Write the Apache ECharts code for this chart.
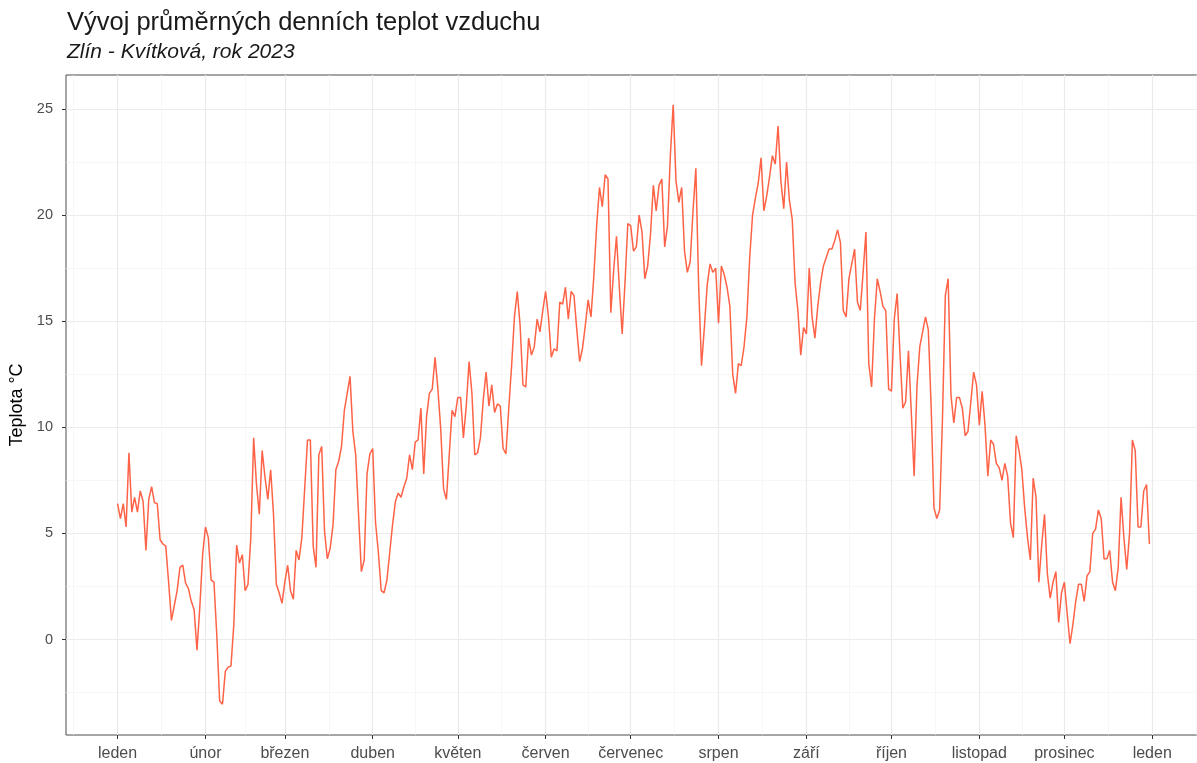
<!DOCTYPE html>
<html>
<head>
<meta charset="utf-8">
<script src="https://cdn.jsdelivr.net/npm/echarts@6/dist/echarts.min.js"></script>
<style>
  html, body { margin: 0; padding: 0; background: #fff; }
  #chart { width: 1197px; height: 763px; }
</style>
</head>
<body>
<div id="chart"></div>
<script>
// denni prumerne teploty 2023 (°C), jedno pole na mesic
var jan = [6.4, 5.7, 6.4, 5.3, 8.8, 6.0, 6.7, 6.0, 7.0, 6.5, 4.2, 6.6, 7.2, 6.45, 6.4, 4.7, 4.5, 4.4, 2.7, 0.9, 1.6, 2.3, 3.4, 3.5, 2.65, 2.4, 1.8, 1.4, -0.5, 1.5, 4.0];
var feb = [5.3, 4.8, 2.8, 2.7, 0.2, -2.9, -3.05, -1.5, -1.3, -1.25, 0.7, 4.45, 3.6, 4.0, 2.3, 2.6, 4.8, 9.5, 7.3, 5.9, 8.9, 7.65, 6.6, 8.0, 5.9, 2.6, 2.2, 1.7];
var mar = [2.7, 3.5, 2.3, 1.9, 4.2, 3.75, 4.8, 7.1, 9.4, 9.4, 4.4, 3.4, 8.7, 9.1, 5.1, 3.8, 4.3, 5.4, 8.0, 8.4, 9.1, 10.8, 11.6, 12.4, 9.8, 8.7, 5.9, 3.2, 3.75, 7.8, 8.75];
var apr = [9.0, 5.5, 4.1, 2.3, 2.2, 2.8, 4.1, 5.4, 6.5, 6.9, 6.7, 7.2, 7.6, 8.7, 8.0, 9.3, 9.4, 10.9, 7.8, 10.5, 11.6, 11.8, 13.3, 11.8, 9.9, 7.1, 6.6, 8.7, 10.8, 10.5];
var may = [11.4, 11.4, 9.5, 11.0, 13.1, 11.6, 8.7, 8.8, 9.5, 11.3, 12.6, 11.0, 12.0, 10.7, 11.1, 11.0, 9.0, 8.75, 10.9, 12.9, 15.2, 16.4, 14.8, 12.0, 11.9, 14.2, 13.4, 13.8, 15.1, 14.5, 15.5];
var jun = [16.4, 15.2, 13.3, 13.7, 13.6, 15.9, 15.8, 16.6, 15.1, 16.4, 16.2, 14.6, 13.1, 13.7, 14.8, 16.0, 15.2, 17.1, 19.5, 21.3, 20.4, 21.9, 21.7, 15.4, 17.4, 19.0, 16.6, 14.4, 16.8, 19.6];
var jul = [19.5, 18.3, 18.5, 20.0, 19.2, 17.0, 17.6, 19.1, 21.4, 20.2, 21.4, 21.7, 18.5, 19.5, 22.8, 25.2, 21.6, 20.6, 21.3, 18.3, 17.3, 17.8, 20.2, 22.2, 16.6, 12.9, 14.7, 16.7, 17.7, 17.3, 17.5];
var aug = [14.9, 17.6, 17.2, 16.6, 15.7, 12.5, 11.6, 13.0, 12.9, 13.8, 15.2, 18.0, 20.0, 20.8, 21.5, 22.7, 20.2, 20.9, 21.8, 22.8, 22.4, 24.2, 21.6, 20.3, 22.5, 20.7, 19.8, 16.8, 15.5, 13.4, 14.7];
var sep = [14.4, 17.5, 15.2, 14.2, 15.7, 16.8, 17.6, 18.0, 18.4, 18.4, 18.8, 19.3, 18.7, 15.5, 15.2, 17.0, 17.7, 18.4, 15.9, 15.5, 17.3, 19.2, 13.0, 11.9, 15.1, 17.0, 16.4, 15.7, 15.5, 11.8];
var oct = [11.7, 15.1, 16.3, 13.5, 10.9, 11.2, 13.6, 10.7, 7.7, 11.95, 13.8, 14.5, 15.2, 14.6, 11.0, 6.2, 5.7, 6.1, 10.4, 16.2, 17.0, 11.5, 10.2, 11.4, 11.4, 10.9, 9.6, 9.8, 11.2, 12.6, 12.0];
var nov = [10.1, 11.7, 10.1, 7.7, 9.4, 9.2, 8.3, 8.1, 7.5, 8.3, 7.7, 5.5, 4.8, 9.6, 8.9, 8.0, 6.2, 4.8, 3.75, 7.6, 6.7, 2.7, 4.45, 5.9, 3.1, 1.95, 2.7, 3.2, 0.8, 2.2];
var dec = [2.7, 1.2, -0.2, 0.7, 1.8, 2.6, 2.6, 1.8, 3.0, 3.2, 5.0, 5.2, 6.1, 5.7, 3.8, 3.8, 4.2, 2.7, 2.3, 3.4, 6.7, 4.8, 3.3, 5.0, 9.4, 8.9, 5.3, 5.3, 7.0, 7.3, 4.5];

// osa x: den v roce (0 = 1. ledna)
var monthNames = ['leden', 'únor', 'březen', 'duben', 'květen', 'červen', 'červenec', 'srpen', 'září', 'říjen', 'listopad', 'prosinec', 'leden'];
var monthStarts = [0, 31, 59, 90, 120, 151, 181, 212, 243, 273, 304, 334, 365];
var monthMids = [-15.5, 15.5, 45, 74.5, 105, 135.5, 166, 196.5, 227.5, 258, 288.5, 319, 349.5, 380.5];
var yMajor = [0, 5, 10, 15, 20, 25];
var yMinor = [-2.5, 2.5, 7.5, 12.5, 17.5, 22.5];

var temps = [].concat(jan, feb, mar, apr, may, jun, jul, aug, sep, oct, nov, dec);
var seriesData = temps.map(function (v, i) { return [i, v]; });

var font = 'Liberation Sans, Arial, sans-serif';
var gridColor = '#ebebeb';

var chart = echarts.init(document.getElementById('chart'));
var option = {
  animation: false,
  textStyle: { fontFamily: font },
  title: {
    text: 'Vývoj průměrných denních teplot vzduchu',
    subtext: 'Zlín - Kvítková, rok 2023',
    left: 67,
    top: 10,
    padding: 0,
    itemGap: 6,
    textStyle: { fontFamily: font, fontSize: 25.5, fontWeight: 'normal', color: '#1a1a1a' },
    subtextStyle: { fontFamily: font, fontSize: 21, fontStyle: 'italic', color: '#1a1a1a' }
  },
  grid: {
    left: 66, right: -4, top: 75, bottom: 28,
    show: true, borderColor: '#4d4d4d', borderWidth: 1,
    outerBoundsMode: 'none'
  },
  xAxis: [
    {
      type: 'value', min: -18.2, max: 382.2, position: 'bottom',
      axisLine: { show: false, onZero: false },
      axisTick: { show: true, customValues: monthStarts, length: 4, lineStyle: { color: '#333', width: 1 } },
      axisLabel: {
        customValues: monthStarts, margin: 11, color: '#4d4d4d', fontSize: 16, fontFamily: font,
        formatter: function (v) { return monthNames[monthStarts.indexOf(v)]; }
      },
      splitLine: { show: true, lineStyle: { color: gridColor, width: 1.2 } }
    },
    {
      type: 'value', min: -18.2, max: 382.2, position: 'top',
      axisLine: { show: false, onZero: false },
      axisTick: { show: false, customValues: monthMids },
      axisLabel: { show: false, customValues: monthMids },
      splitLine: { show: true, lineStyle: { color: '#f4f4f4', width: 0.7 } }
    }
  ],
  yAxis: [
    {
      type: 'value', min: -4.5, max: 26.6, position: 'left',
      name: 'Teplota °C', nameLocation: 'middle', nameGap: 39, nameRotate: 90,
      nameTextStyle: { fontFamily: font, fontSize: 18, color: '#000' },
      axisLine: { show: false, onZero: false },
      axisTick: { show: true, customValues: yMajor, length: 4, lineStyle: { color: '#333', width: 1 } },
      axisLabel: { customValues: yMajor, margin: 13, color: '#4d4d4d', fontSize: 14.5, fontFamily: font },
      splitLine: { show: true, lineStyle: { color: gridColor, width: 1.2 } }
    },
    {
      type: 'value', min: -4.5, max: 26.6, position: 'right',
      axisLine: { show: false, onZero: false },
      axisTick: { show: false, customValues: yMinor },
      axisLabel: { show: false, customValues: yMinor },
      splitLine: { show: true, lineStyle: { color: '#f4f4f4', width: 0.7 } }
    }
  ],
  series: [
    {
      type: 'line',
      xAxisIndex: 0,
      yAxisIndex: 0,
      data: seriesData,
      showSymbol: false,
      lineStyle: { color: '#ff6347', width: 1.5 },
      z: 5
    }
  ]
};
chart.setOption(option);
</script>
</body>
</html>
